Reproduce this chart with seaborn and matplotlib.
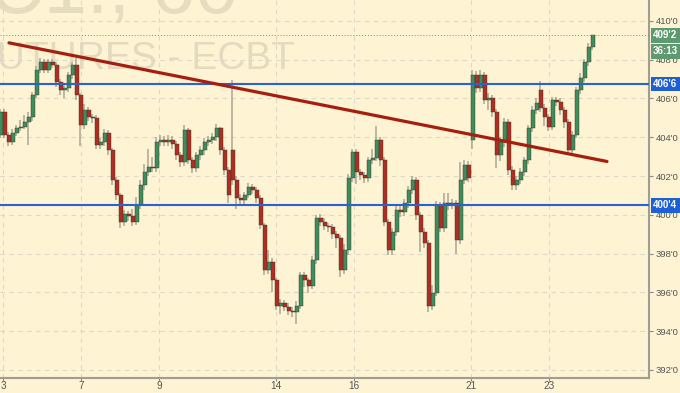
import matplotlib
matplotlib.use("Agg")
import matplotlib.pyplot as plt
import seaborn as sns
import numpy as np
import pandas as pd

# ---------------- data (prices in cents, hourly bars) ----------------
opens = [404.11, 405.30, 404.11, 403.75, 404.21, 404.47, 404.52, 404.78, 405.04, 406.18,
         407.47, 407.88, 407.47, 407.88, 407.73, 406.85, 406.43, 406.54, 407.21, 407.73,
         406.18, 404.63, 405.40, 405.04, 404.99, 403.59, 403.75, 404.21, 403.33, 401.78,
         401.01, 399.61, 400.03, 399.92, 399.61, 400.49, 401.52, 402.20, 402.46, 402.40,
         403.75, 403.85, 403.75, 403.85, 403.64, 403.07, 402.71, 404.37, 402.82, 402.40,
         403.07, 403.33, 403.75, 403.85, 404.01, 404.47, 403.33, 402.30, 403.33, 401.78,
         400.85, 400.75, 401.01, 401.42, 401.27, 400.85, 399.46, 397.13, 397.54, 396.61,
         395.32, 395.43, 395.25, 395.06, 394.96, 395.32, 396.87, 396.61, 396.35, 397.65,
         399.82, 399.61, 399.41, 399.35, 398.99, 398.78, 397.13, 398.16, 401.89, 403.23,
         402.20, 402.04, 401.89, 402.82, 402.92, 403.85, 402.82, 399.61, 398.16, 399.09,
         400.23, 400.15, 400.59, 401.27, 401.78, 399.97, 399.09, 398.53, 395.32, 395.99,
         400.49, 399.30, 400.59, 400.49, 400.59, 398.68, 401.78, 402.56, 403.85, 407.21,
         406.54, 407.21, 405.92, 406.02, 405.30, 403.07, 403.75, 404.78, 402.30, 401.52,
         401.78, 402.20, 402.82, 404.47, 405.40, 406.43, 405.50, 405.04, 404.52, 405.92,
         405.81, 405.40, 404.78, 403.33, 404.11, 406.43, 407.05, 407.88, 408.66]
closes = [405.30, 404.11, 403.75, 404.21, 404.47, 404.52, 404.78, 405.04, 406.18, 407.47,
          407.88, 407.47, 407.88, 407.73, 406.85, 406.43, 406.54, 407.21, 407.73, 406.18,
          404.63, 405.40, 405.04, 404.99, 403.59, 403.75, 404.21, 403.33, 401.78, 401.01,
          399.61, 400.03, 399.92, 399.61, 400.49, 401.52, 402.20, 402.46, 402.40, 403.75,
          403.85, 403.75, 403.85, 403.64, 403.07, 402.71, 404.37, 402.82, 402.40, 403.07,
          403.33, 403.75, 403.85, 404.01, 404.47, 403.33, 402.30, 401.01, 401.78, 400.85,
          400.75, 401.01, 401.42, 401.27, 400.85, 399.46, 397.13, 397.54, 396.61, 395.32,
          395.43, 395.25, 395.06, 394.96, 395.32, 396.87, 396.61, 396.35, 397.65, 399.82,
          399.61, 399.41, 399.35, 398.99, 398.78, 397.13, 398.16, 401.89, 403.23, 402.20,
          402.04, 401.89, 402.82, 402.92, 403.85, 402.82, 399.61, 398.16, 399.09, 400.23,
          400.15, 400.59, 401.27, 401.78, 399.97, 399.09, 398.53, 395.32, 395.99, 400.49,
          399.30, 400.59, 400.49, 400.59, 398.68, 401.78, 402.56, 401.89, 407.21, 406.54,
          407.21, 405.92, 406.02, 405.30, 403.07, 403.75, 404.78, 402.30, 401.52, 401.78,
          402.20, 402.82, 404.47, 405.40, 405.76, 405.50, 405.04, 404.52, 405.92, 405.81,
          405.40, 404.78, 403.33, 404.11, 406.43, 407.05, 407.88, 408.66, 409.25]
highs = [405.45, 405.45, 404.25, 404.40, 404.65, 404.90, 405.15, 405.30, 406.35, 407.65,
         408.10, 408.05, 408.05, 408.05, 407.90, 407.00, 406.75, 407.35, 407.90, 408.10,
         406.30, 405.70, 405.55, 405.20, 405.15, 403.95, 404.40, 404.35, 403.45, 401.95,
         401.10, 400.25, 400.20, 400.30, 400.90, 401.80, 402.60, 403.40, 403.00, 404.00,
         404.10, 404.05, 404.10, 404.05, 403.80, 403.25, 404.65, 404.50, 403.00, 403.25,
         403.55, 403.95, 404.05, 404.20, 404.70, 404.55, 403.50, 402.45, 406.95, 402.00,
         401.05, 401.20, 401.65, 401.60, 401.45, 401.00, 399.60, 398.20, 397.75, 396.75,
         395.65, 395.60, 395.45, 395.25, 395.55, 397.05, 397.05, 396.75, 397.85, 400.00,
         400.05, 399.85, 399.60, 399.55, 399.15, 398.95, 398.50, 402.10, 403.40, 403.40,
         402.35, 402.20, 403.00, 403.40, 404.60, 404.00, 403.00, 399.80, 399.30, 400.50,
         400.45, 400.80, 401.50, 402.00, 401.95, 400.15, 399.30, 398.70, 396.40, 400.70,
         400.65, 401.10, 401.10, 400.80, 400.75, 402.70, 402.85, 402.75, 407.45, 407.40,
         407.45, 407.35, 406.30, 406.20, 405.45, 404.00, 405.00, 404.95, 402.50, 402.00,
         402.40, 403.00, 404.65, 405.60, 406.00, 406.90, 405.70, 405.20, 406.10, 406.10,
         406.00, 405.55, 404.95, 404.30, 406.60, 407.30, 408.05, 408.85, 409.30]
lows = [403.95, 403.95, 403.55, 403.60, 404.05, 404.30, 404.40, 403.60, 404.85, 406.00,
        407.30, 407.30, 407.30, 407.55, 406.60, 406.20, 406.00, 406.35, 407.00, 405.90,
        403.55, 404.40, 404.85, 404.75, 403.40, 403.40, 403.55, 403.10, 401.55, 400.75,
        399.30, 399.40, 399.70, 399.40, 399.45, 400.30, 401.30, 402.00, 402.20, 402.20,
        403.55, 403.55, 403.55, 403.40, 402.85, 402.45, 402.50, 402.60, 402.15, 402.20,
        402.85, 403.10, 403.55, 403.65, 403.80, 403.10, 402.05, 400.60, 401.55, 400.30,
        400.50, 400.55, 400.85, 401.05, 400.60, 399.25, 396.90, 396.95, 396.00, 395.10,
        394.90, 395.05, 394.85, 394.75, 394.35, 395.15, 396.25, 395.95, 396.15, 397.45,
        399.40, 399.20, 399.10, 398.75, 398.30, 396.80, 396.95, 397.95, 401.70, 401.60,
        401.80, 401.65, 401.70, 402.60, 402.75, 402.50, 399.40, 397.95, 397.95, 398.90,
        399.90, 399.95, 400.35, 401.05, 399.75, 398.10, 398.30, 395.00, 395.10, 395.80,
        399.10, 399.10, 400.25, 400.30, 398.00, 398.50, 401.60, 401.70, 403.40, 406.30,
        406.35, 405.70, 405.40, 405.05, 402.40, 402.80, 403.50, 402.05, 401.30, 401.30,
        401.60, 402.00, 402.60, 404.25, 405.20, 405.30, 404.60, 404.30, 404.35, 405.60,
        405.15, 404.50, 403.10, 403.15, 403.95, 406.25, 406.85, 407.70, 408.50]

day_labels = ["3", "7", "9", "14", "16", "21", "23"]
day_positions = [0.5, 20, 39.5, 68.75, 88.25, 117.5, 137]   # bar index of each session start

price_ticks = [392, 394, 396, 398, 400, 402, 404, 406, 408, 410]
price_tick_labels = ["392'0", "394'0", "396'0", "398'0", "400'0",
                     "402'0", "404'0", "406'0", "408'0", "410'0"]

levels = [406.75, 400.50]              # horizontal support / resistance
level_labels = ["406'6", "400'4"]
trend_x = [2, 151.5]                    # trendline anchor bars
trend_y = [408.87, 402.75]              # trendline anchor prices
last_price = 409.25
last_label = "409'2"
countdown = "36:13"

df = pd.DataFrame({"bar": np.arange(len(closes)), "open": opens, "close": closes,
                   "high": highs, "low": lows})

# ---------------- style ----------------
BG = "#fef3d2"
sns.set_theme(style="white", rc={"axes.facecolor": BG, "figure.facecolor": BG})
plt.rcParams["font.family"] = ["Liberation Sans", "DejaVu Sans"]

fig = plt.figure(figsize=(6.8, 3.93), dpi=100)
ax = fig.add_axes([0, 15 / 393, 649 / 680, 1 - 15 / 393])
ax.set_facecolor(BG)

# watermark (behind the data, partly outside the top edge like the reference)
ax.text(238 / 680, 1 - 13 / 393, "ZC1!, 60", ha="right", va="baseline",
        fontsize=56, color="#e6dcc0", zorder=0.5, transform=fig.transFigure,
        clip_on=False)
ax.text(-27 / 680, 1 - 69 / 393, "FUTURES - ECBT", ha="left", va="baseline",
        fontsize=28, color="#e4dabf", zorder=0.5, transform=fig.transFigure,
        clip_on=False)

# grid
for p in price_ticks:
    ax.axhline(p, color="#ddd8c8", lw=0.8, ls=(0, (4, 4)), zorder=1)
for d in day_positions:
    ax.axvline(d, color="#ddd8c8", lw=0.8, ls=(0, (4, 4)), zorder=1)

# wicks
ax.vlines(df["bar"] - 0.3, df["low"], df["high"], color="#aaa697", lw=1.1, zorder=2)

# bodies
up = df["close"] >= df["open"]
GREEN, RED = "#3f8c5c", "#ad2e22"
for mask, col in [(up, GREEN), (~up, RED)]:
    sub = df[mask]
    bottom = np.minimum(sub["open"], sub["close"])
    height = np.abs(sub["close"] - sub["open"]).clip(lower=0.06)
    ax.bar(sub["bar"], height, bottom=bottom, width=0.8, color=col,
           edgecolor="#3a3326", linewidth=0.3, zorder=3)

# level lines
for lv in levels:
    ax.axhline(lv, color="#2a62d4", lw=1.5, zorder=4)
ax.axhline(last_price, color="#5f9a6e", lw=0.7, ls=(0, (1, 2)), zorder=4)

# trendline
sns.lineplot(x=trend_x, y=trend_y, color="#a51f10", lw=2.3, ax=ax, zorder=5)

# axes
ax.set_xlim(-0.25, 162)
ax.set_ylim(391.58, 411.08)
ax.yaxis.tick_right()
ax.set_yticks(price_ticks)
ax.set_yticklabels(price_tick_labels)
ax.set_xticks(day_positions)
ax.set_xticklabels(day_labels)
ax.tick_params(axis="y", length=3, width=0.8, color="#8a8a8a", pad=2,
               labelsize=6.8, labelcolor="#555555", right=True)
ax.tick_params(axis="x", length=2, width=0.8, color="#8a8a8a", pad=0.5,
               labelsize=7.2, labelcolor="#555555", bottom=True)
for s in ["left", "top"]:
    ax.spines[s].set_visible(False)
for s in ["right", "bottom"]:
    ax.spines[s].set_visible(True)
    ax.spines[s].set_color("#9e9e94")
    ax.spines[s].set_linewidth(1.5)
ax.set_xlabel("")
ax.set_ylabel("")
ax.grid(False)

# price label boxes on the right axis
def tag(y, text, fc, dy=0):
    ax.annotate(text, xy=(1, y), xycoords=("axes fraction", "data"),
                xytext=(4, dy), textcoords="offset pixels", ha="left", va="center",
                fontsize=7, color="white", fontweight="bold",
                bbox=dict(boxstyle="square,pad=0.25", fc=fc, ec="none"),
                annotation_clip=False, zorder=10)

tag(last_price, last_label, "#5e9a70")
tag(last_price, countdown, "#5e9a70", dy=-16)
for lv, lab in zip(levels, level_labels):
    tag(lv, lab, "#1f5fd6")

fig.savefig("out.png", dpi=100, facecolor=BG)
